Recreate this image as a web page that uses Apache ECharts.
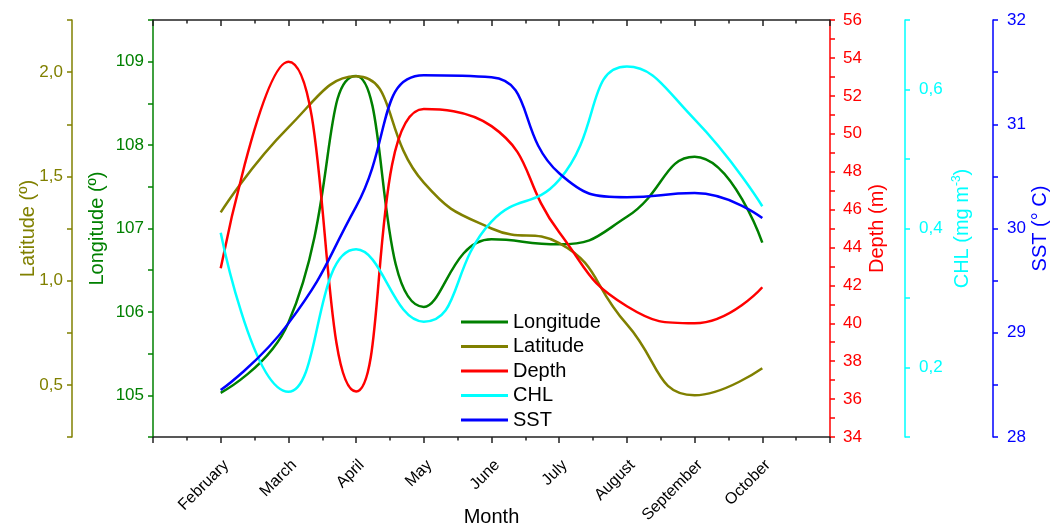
<!DOCTYPE html>
<html>
<head>
<meta charset="utf-8">
<script src="https://cdn.jsdelivr.net/npm/echarts@6/dist/echarts.min.js"></script>
<style>html,body{margin:0;padding:0;background:#fff;}#c{width:1055px;height:527px;}</style>
</head>
<body>
<div id="c"></div>
<script>
const months = ['February','March','April','May','June','July','August','September','October'];
const longitude = [105.03, 105.87, 108.83, 106.06, 106.87, 106.81, 107.14, 107.86, 106.83];
const latitude = [1.327, 1.735, 1.98, 1.47, 1.25, 1.18, 0.79, 0.45, 0.58];
const depth = [42.9, 53.8, 36.4, 51.3, 50.4, 44.8, 40.9, 40.0, 41.9];
const chl = [0.394, 0.165, 0.37, 0.266, 0.41, 0.47, 0.633, 0.557, 0.432];
const sst = [28.45, 29.09, 30.21, 31.47, 31.45, 30.53, 30.30, 30.34, 30.10];

const FONT = 'Liberation Sans, Arial, sans-serif';
const C = {lon:'#008000', lat:'#808000', dep:'#ff0000', chl:'#00ffff', sst:'#0000ff'};
const toXY = arr => arr.map((v, i) => [i + 1, v]);
const comma = (v, d) => v.toFixed(d).replace('.', ',');

function yAx(opt) {
  return Object.assign({
    type: 'value',
    splitLine: {show: false},
    axisLine: {show: true, onZero: false, lineStyle: {color: opt.color, width: 1.5}},
    axisTick: {show: true, inside: false, length: 5, lineStyle: {color: opt.color, width: 1.5}},
    nameLocation: 'middle',
    nameRotate: 90,
    nameMoveOverlap: false,
    nameTextStyle: {color: opt.color, fontSize: 20, fontFamily: FONT}
  }, opt.o);
}
const lab = (color, margin, formatter) => ({color, fontSize: 17, fontFamily: FONT, margin, formatter});

const chart = echarts.init(document.getElementById('c'), null, {renderer: 'canvas'});
const option = {
  backgroundColor: '#fff',
  animation: false,
  grid: {left: 153, right: 225, top: 20, bottom: 90, containLabel: false, outerBoundsMode: 'none'},
  legend: {
    orient: 'vertical', left: 461, top: 312, padding: 0,
    icon: 'rect', itemWidth: 47, itemHeight: 3, itemGap: 4.5,
    textStyle: {color: '#000', fontSize: 20, fontFamily: FONT},
    data: ['Longitude','Latitude','Depth','CHL','SST']
  },
  xAxis: [{
    type: 'value', min: 0, max: 10, interval: 1, position: 'bottom',
    splitLine: {show: false},
    axisLine: {lineStyle: {color: '#222', width: 1.5}},
    axisTick: {length: 6, lineStyle: {color: '#222', width: 1.5}},
    minorTick: {show: true, splitNumber: 2, length: 3.5, lineStyle: {color: '#222', width: 1.5}},
    axisLabel: {
      rotate: 45, fontSize: 16, color: '#000', fontFamily: FONT, margin: 20, verticalAlign: 'top',
      formatter: v => (v >= 1 && v <= months.length) ? months[v - 1] : ''
    },
    name: 'Month', nameLocation: 'middle', nameGap: 70, nameMoveOverlap: false,
    nameTextStyle: {color: '#000', fontSize: 20, fontFamily: FONT}
  }, {
    type: 'value', min: 0, max: 10, interval: 1, position: 'top',
    splitLine: {show: false},
    axisLine: {lineStyle: {color: '#222', width: 1.5}},
    axisTick: {inside: true, length: 6, lineStyle: {color: '#222', width: 1.5}},
    minorTick: {show: true, splitNumber: 2, length: 3.5, lineStyle: {color: '#222', width: 1.5}},
    axisLabel: {show: false}
  }],
  yAxis: [
    yAx({color: C.lon, o: {position: 'left', offset: 0, min: 104.5, max: 109.5, interval: 0.5,
      name: 'Longitude (º)', nameGap: 46,
      axisLabel: lab(C.lon, 9, v => Math.abs(v - Math.round(v)) < 1e-6 ? String(Math.round(v)) : '')}}),
    yAx({color: C.lat, o: {position: 'left', offset: 81, min: 0.25, max: 2.25, interval: 0.25,
      name: 'Latitude (º)', nameGap: 34,
      axisLabel: lab(C.lat, 9, v => Math.abs(v * 2 - Math.round(v * 2)) < 1e-6 ? comma(v, 1) : '')}}),
    yAx({color: C.dep, o: {position: 'right', offset: 0, min: 34, max: 56, interval: 1,
      name: 'Depth (m)', nameGap: 37,
      axisLabel: lab(C.dep, 13, v => Math.round(v) % 2 === 0 ? String(Math.round(v)) : '')}}),
    yAx({color: C.chl, o: {position: 'right', offset: 75, min: 0.1, max: 0.7, interval: 0.1,
      name: 'CHL (mg m{sup|-3})', nameGap: 46,
      nameTextStyle: {color: C.chl, fontSize: 20, fontFamily: FONT,
        rich: {sup: {color: C.chl, fontSize: 12, fontFamily: FONT, verticalAlign: 'top', padding: [0, 0, 10, 0]}}},
      axisLabel: lab(C.chl, 14, v => Math.round(v * 10) % 2 === 0 ? comma(v, 1) : '')}}),
    yAx({color: C.sst, o: {position: 'right', offset: 163, min: 28, max: 32, interval: 0.5,
      name: 'SST (° C)', nameGap: 37,
      axisLabel: lab(C.sst, 14, v => Math.abs(v - Math.round(v)) < 1e-6 ? String(Math.round(v)) : '')}})
  ],
  series: [
    {name: 'Longitude', type: 'line', yAxisIndex: 0, data: toXY(longitude)},
    {name: 'Latitude', type: 'line', yAxisIndex: 1, data: toXY(latitude)},
    {name: 'Depth', type: 'line', yAxisIndex: 2, data: toXY(depth)},
    {name: 'CHL', type: 'line', yAxisIndex: 3, data: toXY(chl)},
    {name: 'SST', type: 'line', yAxisIndex: 4, data: toXY(sst)}
  ].map((s, i) => Object.assign(s, {
    smooth: 0.5, symbol: 'none', showSymbol: false,
    color: [C.lon, C.lat, C.dep, C.chl, C.sst][i],
    lineStyle: {width: 2.5, color: [C.lon, C.lat, C.dep, C.chl, C.sst][i]}
  }))
};
chart.setOption(option);
</script>
</body>
</html>
